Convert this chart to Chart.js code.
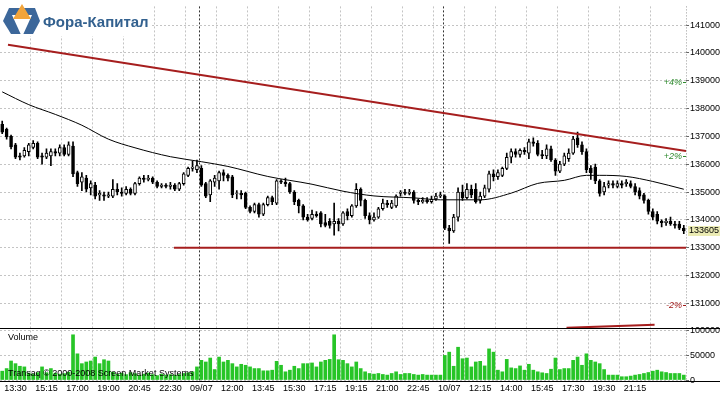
<!DOCTYPE html>
<html lang="ru">
<head>
<meta charset="UTF-8">
<title>Фора-Капитал</title>
<script src="https://cdn.jsdelivr.net/npm/chart.js"></script>
<style>
  html, body { margin: 0; padding: 0; background: #fff; }
  canvas { display: block; }
</style>
</head>
<body>
<canvas id="chart" width="720" height="393"></canvas>
<script>
// 15-minute candles, 08/07 (part) - 10/07
const opens = [
  137430,137250,137000,136700,136300,136300,136450,136600,136750,136300,
  136250,136300,136450,136400,136600,136350,136650,135700,135350,135500,
  135150,135250,134900,134900,134850,134850,135100,135000,134950,135100,
  134950,135300,135500,135450,135500,135350,135200,135250,135200,135250,
  135100,135300,135600,135850,135800,
  135850,135300,134900,135350,135400,135700,135600,135550,134950,134950,
  134950,134450,134300,134550,134200,134550,134800,134600,135400,135350,
  135300,135000,134700,134500,134100,134050,134200,134250,133900,133950,
  133850,133950,133850,134300,134150,134500,135100,134700,134150,134000,
  134100,134400,134600,134450,134500,134950,135000,134950,135000,134700,
  134650,134700,134650,134750,134850,
  134850,133700,133600,134100,135000,134800,135100,135100,134700,134850,
  135100,135650,135550,135600,135850,136250,136450,136350,136500,136400,
  136800,136750,136350,136300,136550,136150,135750,136000,136200,136400,
  136950,136700,136450,135850,135900,135400,135000,135250,135300,135200,
  135300,135300,135300,135200,135050,134900,134700,134300,134200,133950,
  133900,133950,133850,133850,133700
];
const highs = [
  137550,137300,137050,136750,136400,136600,136750,136850,136800,136400,
  136550,136550,136550,136700,136700,136800,136800,135750,135700,135600,
  135400,135350,135050,135000,135000,135450,135300,135150,135200,135150,
  135350,135550,135600,135600,135550,135400,135300,135300,135350,135300,
  135350,135700,135900,136100,136150,
  135950,135350,135450,135600,135750,135800,135650,135600,135050,135050,
  135000,134500,134600,134600,134600,134850,134850,135450,135450,135500,
  135350,135050,134750,134550,134200,134350,134300,134300,134200,134050,
  134600,134050,134300,134400,134550,135300,135150,134750,134250,134250,
  134450,134750,134700,134700,134900,135050,135100,135100,135050,134750,
  134800,134800,134850,134950,135000,
  134900,133800,134200,135150,135250,135300,135250,135300,135000,135250,
  135750,135800,135800,135900,136400,136550,136550,136550,136600,136900,
  136950,136850,136500,136700,136650,136200,136100,136400,136550,137000,
  137150,136800,136550,135950,136000,135450,135350,135400,135400,135400,
  135400,135450,135400,135300,135150,134950,134750,134400,134300,134000,
  134050,134100,133950,133950,133800
];
const lows = [
  137100,136900,136550,136200,136150,136250,136300,136550,136200,136000,
  136200,135950,136300,136300,136300,136300,135550,135200,135050,135000,
  134900,134750,134700,134700,134800,134800,134900,134850,134900,134900,
  134900,135250,135350,135400,135300,135150,135150,135150,135100,135050,
  135050,135250,135550,135750,135700,
  135200,134800,134650,135200,135100,135400,135400,134800,134750,134750,
  134400,134250,134250,134100,134150,134500,134550,134550,135300,135200,
  134950,134550,134250,134000,133950,134000,134100,133750,133750,133700,
  133450,133600,133800,134000,134100,134450,134500,134050,133850,133950,
  134050,134350,134450,134400,134450,134850,134900,134900,134600,134550,
  134600,134600,134600,134700,134800,
  133650,133150,133550,133950,134700,134750,134800,134600,134600,134800,
  135000,135400,135450,135550,135800,136050,136250,136250,136350,136200,
  136650,136300,136200,136200,136100,135600,135700,135950,136100,136350,
  136600,136350,135700,135450,135300,134850,134900,135150,135150,135150,
  135150,135200,135150,134900,134750,134600,134200,134000,133850,133750,
  133800,133800,133700,133650,133500
];
const closes = [
  137150,136980,136620,136250,136250,136500,136700,136750,136250,136250,
  136400,136450,136400,136600,136350,136700,135650,135300,135550,135100,
  135300,134850,134950,134850,134900,135100,135000,134950,135100,134950,
  135300,135500,135450,135500,135350,135200,135250,135200,135250,135100,
  135300,135650,135850,135900,135950,
  135250,134850,135400,135500,135700,135600,135500,134900,134970,134900,
  134450,134300,134550,134200,134550,134800,134650,135400,135350,135300,
  135000,134650,134500,134100,134000,134200,134150,133850,133800,133800,
  133950,133850,134250,134150,134500,135100,134700,134150,134000,134100,
  134400,134600,134550,134600,134850,135000,134950,135000,134700,134650,
  134700,134650,134750,134850,134900,
  133700,133600,134100,135000,134800,135100,134900,134650,134850,135150,
  135650,135550,135700,135850,136250,136450,136350,136500,136450,136800,
  136750,136350,136300,136550,136150,135750,136000,136300,136400,136900,
  136700,136450,135800,135700,135400,134950,135200,135300,135250,135300,
  135250,135350,135200,135000,134850,134700,134300,134100,133950,133900,
  133950,133850,133800,133700,133605
];
const volumes = [
  18000,23300,38700,33300,28000,26700,14000,12000,15000,26700,
  15000,23300,14000,12000,13000,16000,92000,53300,33300,36700,
  38700,46700,33300,41300,38700,16000,12000,14000,11000,15000,
  13000,10000,12000,14000,11000,9000,12000,10000,11000,10000,
  11300,13300,14700,16700,26700,
  40000,36700,44700,21300,46700,36700,40000,33300,26700,32000,
  30000,26700,23300,23300,18700,18700,20000,38000,30000,16700,
  20000,28000,23300,33300,33300,34700,26700,36700,40000,42000,
  92000,41300,40000,33300,26700,36700,23300,16700,13300,12000,
  13300,11300,10000,13300,16700,11300,13300,13300,11300,10000,
  11300,10000,10000,10000,10000,
  50000,56700,28000,66700,43300,44700,26700,36700,38000,28700,
  63300,56700,20000,16700,42000,24700,23300,28700,20000,32000,
  20000,16700,14700,13300,22000,44700,21300,23300,23300,40000,
  46700,30000,53300,40000,36700,33300,21300,10000,10000,10000,
  6700,6700,8000,10000,11300,13300,15300,18000,20000,16700,
  15300,13300,13300,13300,10000
];

// moving average, read at a few candles
const maIdx = [0, 6, 12, 18, 24, 30, 38, 45, 51, 60, 70, 77, 84, 93, 99, 108, 115, 121, 127, 132, 135, 141, 147, 154];
const maVal = [138600, 138140, 137790, 137400, 136900, 136590, 136270, 136090, 135920, 135560, 135280, 135030,
               134860, 134790, 134720, 134720, 134960, 135310, 135420, 135600, 135600, 135560, 135380, 135100];

// drawn lines (candle index, price)
const trendIdx = [1.3, 154.5];
const trendVal = [140290, 136470];
const supportIdx = [38.8, 154.5];
const supportVal = [133000, 133000];
const lowerIdx = [127.5, 147.4];
const lowerVal = [130120, 130230];

const tickIdx = [3, 10, 17, 24, 31, 38, 45, 52, 59, 66, 73, 80, 87, 94, 101, 108, 115, 122, 129, 136, 143];
const tickText = ['13:30', '15:15', '17:00', '19:00', '20:45', '22:30', '09/07', '12:00', '13:45', '15:30', '17:15',
                  '19:15', '21:00', '22:45', '10/07', '12:15', '14:00', '15:45', '17:30', '19:30', '21:15'];
const dayBreaks = [44.5, 99.5];
const priceTicks = [131000, 132000, 133000, 134000, 135000, 136000, 137000, 138000, 139000, 140000, 141000];
const volTicks = [0, 50000, 100000];
const lastPrice = 133605;
const pctLevels = [4, 2, -2];

const FONT = 'Liberation Sans, Arial, sans-serif';
const GRID = '#c4c4c4';
const RED = '#a61e1e';

const pts = (xs, ys) => xs.map((x, k) => ({ x: x, y: ys[k] }));

const overlay = {
  id: 'overlay',
  beforeDatasetsDraw(chart) {
    const { ctx, chartArea, scales } = chart;
    ctx.save();
    ctx.strokeStyle = '#333';
    ctx.lineWidth = 1;
    ctx.setLineDash([2, 2]);
    dayBreaks.forEach(d => {
      const px = Math.round(scales.x.getPixelForValue(d)) + 0.5;
      ctx.beginPath();
      ctx.moveTo(px, chartArea.top);
      ctx.lineTo(px, chartArea.bottom);
      ctx.stroke();
    });
    ctx.strokeStyle = '#999';
    ctx.setLineDash([1, 2]);
    ctx.beginPath();
    ctx.moveTo(chartArea.right + 0.5, chartArea.top);
    ctx.lineTo(chartArea.right + 0.5, chartArea.bottom);
    ctx.stroke();
    ctx.restore();
  },
  afterDraw(chart) {
    const { ctx, chartArea, scales } = chart;
    const y = scales.y, v = scales.v;
    ctx.save();

    // panel borders
    ctx.strokeStyle = '#000';
    ctx.lineWidth = 1;
    [v.top, v.bottom].forEach(py => {
      const p = Math.round(py) + 0.5;
      ctx.beginPath();
      ctx.moveTo(0, p);
      ctx.lineTo(chart.width, p);
      ctx.stroke();
    });

    // percent levels from last price
    ctx.font = 'italic 9px ' + FONT;
    ctx.textAlign = 'right';
    ctx.textBaseline = 'middle';
    pctLevels.forEach(p => {
      const py = y.getPixelForValue(lastPrice * (1 + p / 100));
      ctx.fillStyle = p > 0 ? '#2d8a2d' : '#a01818';
      ctx.fillText((p > 0 ? '+' : '') + p + '%', chartArea.right - 4, py);
      ctx.fillRect(chartArea.right - 3, Math.round(py), 3, 1);
    });

    // last price box
    const lp = Math.round(y.getPixelForValue(lastPrice));
    ctx.fillStyle = '#ebebb4';
    ctx.fillRect(chartArea.right + 2, lp - 5, chart.width - chartArea.right - 2, 10);
    ctx.fillStyle = '#000';
    ctx.textAlign = 'left';
    ctx.font = '9px ' + FONT;
    ctx.fillText(String(lastPrice), chartArea.right + 3, lp);

    // volume panel texts
    ctx.fillText('Volume', 8, v.top + 10);
    ctx.fillText('Transaq \u00A9 2000-2008 Screen Market Systems', 8, v.bottom - 7);

    // logo
    ctx.fillStyle = '#fff';
    ctx.fillRect(0, 0, 150, 36);
    ctx.fillStyle = '#3c679a';
    ctx.beginPath();
    ctx.moveTo(9, 8); ctx.lineTo(35, 8); ctx.lineTo(40, 21); ctx.lineTo(33, 34);
    ctx.lineTo(11, 34); ctx.lineTo(3, 21); ctx.closePath();
    ctx.fill();
    ctx.fillStyle = '#fff';
    ctx.beginPath();
    ctx.moveTo(12, 15); ctx.lineTo(32, 15); ctx.lineTo(22, 37); ctx.closePath();
    ctx.fill();
    ctx.fillStyle = '#f2a43a';
    ctx.beginPath();
    ctx.moveTo(22, 4); ctx.lineTo(31, 19); ctx.lineTo(13, 19); ctx.closePath();
    ctx.fill();
    ctx.fillStyle = '#33618f';
    ctx.font = 'bold 15px ' + FONT;
    ctx.textBaseline = 'alphabetic';
    ctx.fillText('Фора-Капитал', 43, 27);

    ctx.restore();
  }
};

new Chart(document.getElementById('chart'), {
  type: 'bar',
  data: {
    datasets: [
      {
        type: 'line', data: pts(trendIdx, trendVal), yAxisID: 'y',
        borderColor: RED, borderWidth: 2, pointRadius: 0, order: 0
      },
      {
        type: 'line', data: pts(supportIdx, supportVal), yAxisID: 'y',
        borderColor: RED, borderWidth: 2, pointRadius: 0, order: 0
      },
      {
        type: 'line', data: pts(lowerIdx, lowerVal), yAxisID: 'y',
        borderColor: RED, borderWidth: 2, pointRadius: 0, order: 0
      },
      {
        type: 'line', data: pts(maIdx, maVal), yAxisID: 'y',
        borderColor: '#000', borderWidth: 1, pointRadius: 0,
        cubicInterpolationMode: 'monotone', order: 1
      },
      {
        data: closes.map((c, i) => ({ x: i, y: [opens[i], c] })), yAxisID: 'y',
        backgroundColor: closes.map((c, i) => c >= opens[i] ? '#fff' : '#000'),
        borderColor: '#000', borderWidth: 1, borderSkipped: false,
        barThickness: 3, grouped: false, order: 2
      },
      {
        data: closes.map((c, i) => ({ x: i, y: [lows[i], highs[i]] })), yAxisID: 'y',
        backgroundColor: '#000', barThickness: 1, grouped: false, order: 3
      },
      {
        data: volumes.map((vol, i) => ({ x: i, y: vol })), yAxisID: 'v',
        backgroundColor: '#27c527', barThickness: 3, grouped: false, order: 4
      }
    ]
  },
  options: {
    responsive: false,
    animation: false,
    events: [],
    devicePixelRatio: 1,
    layout: { padding: 0 },
    plugins: { legend: { display: false }, tooltip: { enabled: false } },
    scales: {
      x: {
        type: 'linear', min: -0.5, max: 154.5, offset: false,
        afterBuildTicks: s => { s.ticks = tickIdx.map(t => ({ value: t })); },
        afterFit: s => { s.height = 12; },
        ticks: {
          autoSkip: false, maxRotation: 0, padding: 2,
          color: '#000', font: { family: FONT, size: 9 },
          callback: (val, i) => tickText[i]
        },
        grid: { color: GRID, drawTicks: false },
        border: { display: false, dash: [2, 2] }
      },
      y: {
        type: 'linear', position: 'right', stack: 'panels', stackWeight: 327,
        min: 130117, max: 141671,
        afterBuildTicks: s => { s.ticks = priceTicks.map(t => ({ value: t })); },
        afterFit: s => { s.width = 34; },
        ticks: { padding: 1, color: '#000', font: { family: FONT, size: 9 }, callback: val => String(val) },
        grid: { color: GRID, tickLength: 3, tickColor: '#666' },
        border: { display: false, dash: [2, 2] }
      },
      v: {
        type: 'linear', position: 'right', stack: 'panels', stackWeight: 54,
        min: -2000, max: 106000,
        afterBuildTicks: s => { s.ticks = volTicks.map(t => ({ value: t })); },
        afterFit: s => { s.width = 34; },
        ticks: { padding: 1, color: '#000', font: { family: FONT, size: 9 }, callback: val => String(val) },
        grid: { color: GRID, tickLength: 3, tickColor: '#666' },
        border: { display: false, dash: [2, 2] }
      }
    }
  },
  plugins: [overlay]
});
</script>
</body>
</html>
